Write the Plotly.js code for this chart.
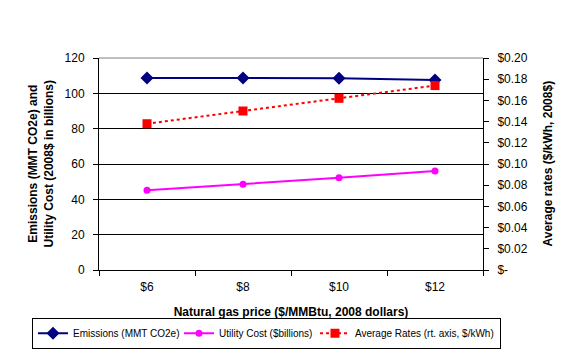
<!DOCTYPE html>
<html><head><meta charset="utf-8">
<script src="https://cdn.plot.ly/plotly-3.0.1.min.js"></script>
<style>html,body{margin:0;padding:0;background:#fff}#c{width:571px;height:353px}</style>
</head><body><div id="c"></div>
<script>
const categories = ["$6", "$8", "$10", "$12"];
const emissions = [108.7, 108.7, 108.6, 107.6];
const utilityCost = [45.2, 48.5, 52.2, 56.1];
const averageRates = [0.138, 0.150, 0.162, 0.174];
const leftTicks = [0, 20, 40, 60, 80, 100, 120];
const rightTickVals = [0, 0.02, 0.04, 0.06, 0.08, 0.10, 0.12, 0.14, 0.16, 0.18, 0.20];
const rightTickText = ["$-", "$0.02", "$0.04", "$0.06", "$0.08", "$0.10", "$0.12", "$0.14", "$0.16", "$0.18", "$0.20"];

const fam = "Liberation Sans, Arial, sans-serif";
const font = {family: fam, size: 12, color: "#000"};
const traces = [
  {x: categories, y: emissions, name: "Emissions (MMT CO2e)", type: "scatter", mode: "lines+markers", legendwidth: 101,
   line: {color: "#000080", width: 2}, marker: {symbol: "diamond", size: 10, color: "#000080"}},
  {x: categories, y: utilityCost, name: "Utility Cost ($billions)", type: "scatter", mode: "lines+markers", legendwidth: 91,
   line: {color: "#FF00FF", width: 2}, marker: {symbol: "circle", size: 7, color: "#FF00FF"}},
  {x: categories, y: averageRates, name: "Average Rates (rt. axis, $/kWh)", type: "scatter", mode: "lines+markers", legendwidth: 140,
   yaxis: "y2", line: {color: "#FF0000", width: 2, dash: "dot"}, marker: {symbol: "square", size: 9, color: "#FF0000"}}
];
const layout = {
  width: 571, height: 353,
  margin: {l: 99, r: 88, t: 58, b: 83, autoexpand: false},
  paper_bgcolor: "#fff", plot_bgcolor: "#fff",
  font: font,
  showlegend: true,
  legend: {orientation: "h", x: -0.1745, xanchor: "left", y: -0.225, yanchor: "top",
    bordercolor: "#000", borderwidth: 1,
    font: {family: fam, size: 10, color: "#000"},
    itemwidth: 30, tracegroupgap: 0},
  xaxis: {type: "category", tickson: "boundaries", ticks: "outside", ticklen: 5, tickcolor: "#000",
    showline: true, linecolor: "#000", linewidth: 1, showgrid: false, zeroline: false,
    range: [-0.5, 3.5], tickfont: font, ticklabelstandoff: 6,
    title: {text: "<b>Natural gas price ($/MMBtu, 2008 dollars)</b>", font: font, standoff: 14}},
  yaxis: {range: [0, 120], tickvals: leftTicks, ticks: "outside", ticklen: 5, tickcolor: "#000",
    showline: true, linecolor: "#000", showgrid: true, gridcolor: "#000", gridwidth: 1, zeroline: false,
    tickfont: font, ticklabelstandoff: 6},
  yaxis2: {range: [0, 0.2], overlaying: "y", side: "right", tickvals: rightTickVals, ticktext: rightTickText,
    ticks: "outside", ticklen: 5, tickcolor: "#000", showline: true, linecolor: "#000", showgrid: false, zeroline: false,
    tickfont: font, ticklabelstandoff: 6},
  annotations: [
    {text: "<b>Emissions (MMT CO2e) and<br>Utility Cost (2008$ in billions)</b>", xref: "paper", yref: "paper",
     x: -0.15, y: 0.5, xanchor: "center", yanchor: "middle", textangle: -90, showarrow: false, font: font},
    {text: "<b>Average rates ($/kWh, 2008$)</b>", xref: "paper", yref: "paper",
     x: 1.168, y: 0.5, xanchor: "center", yanchor: "middle", textangle: -90, showarrow: false, font: font}
  ],
  shapes: [{type: "line", xref: "paper", yref: "paper", x0: 0, x1: 1, y0: 1, y1: 1, line: {color: "#808080", width: 1}}]
};
Plotly.newPlot("c", traces, layout, {displayModeBar: false, staticPlot: true});
</script></body></html>
